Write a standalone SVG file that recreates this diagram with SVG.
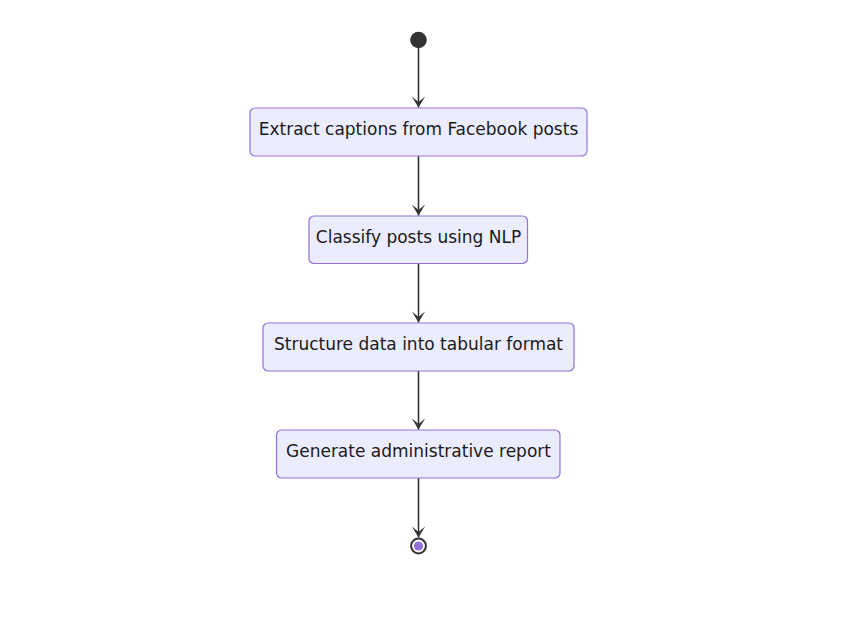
<svg xmlns="http://www.w3.org/2000/svg" width="857" height="621" viewBox="0 0 857 621">
<style>
.box{fill:#ECECFF;stroke:#9370DB;stroke-width:1.2}
.lbl{font-family:"DejaVu Sans",Verdana,sans-serif;font-size:17px;fill:#1a1a1a;text-anchor:middle}
.edge{stroke:#333;stroke-width:1.6;fill:none;marker-end:url(#arr)}
</style>
<defs>
<marker id="arr" viewBox="0 0 20 14" refX="19" refY="7" markerWidth="22" markerHeight="15.4" markerUnits="userSpaceOnUse" orient="auto">
<path d="M19,7 L9,13 L14,7 L9,1 Z" fill="#333"/>
</marker>
</defs>
<rect width="857" height="621" fill="#fff"/>
<g id="connectors">
<line class="edge" x1="418.5" y1="48" x2="418.5" y2="107.5"/>
<line class="edge" x1="418.5" y1="156" x2="418.5" y2="215.5"/>
<line class="edge" x1="418.5" y1="264" x2="418.5" y2="322.5"/>
<line class="edge" x1="418.5" y1="371" x2="418.5" y2="429.5"/>
<line class="edge" x1="418.5" y1="478" x2="418.5" y2="537.5"/>
</g>
<g id="start">
<circle cx="418.5" cy="40" r="8.3" fill="#333"/>
</g>
<g id="n1">
<rect class="box" x="250" y="108" width="337" height="48" rx="5"/>
<text class="lbl" x="418.5" y="134.5">Extract captions from Facebook posts</text>
</g>
<g id="n2">
<rect class="box" x="309" y="216" width="218.5" height="47.5" rx="5"/>
<text class="lbl" x="418.5" y="242.5">Classify posts using NLP</text>
</g>
<g id="n3">
<rect class="box" x="263" y="323" width="311" height="48" rx="5"/>
<text class="lbl" x="418.5" y="349.5">Structure data into tabular format</text>
</g>
<g id="n4">
<rect class="box" x="276.5" y="430" width="283.5" height="48" rx="5"/>
<text class="lbl" x="418.5" y="456.5">Generate administrative report</text>
</g>
<g id="end">
<circle cx="418.5" cy="546" r="7.4" fill="#fff" stroke="#333" stroke-width="2"/>
<circle cx="418.5" cy="546" r="4.6" fill="#9370DB"/>
</g>
</svg>
